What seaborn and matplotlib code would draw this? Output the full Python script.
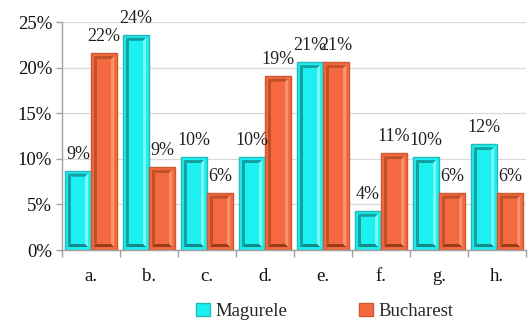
import matplotlib
matplotlib.use("Agg")
import matplotlib.pyplot as plt
from matplotlib.patches import Polygon, Patch
from matplotlib.ticker import MultipleLocator, FixedLocator, NullFormatter
import seaborn as sns
import pandas as pd

categories = ["a.", "b.", "c.", "d.", "e.", "f.", "g.", "h."]
magurele = [8.7, 23.6, 10.2, 10.2, 20.6, 4.3, 10.2, 11.6]
bucharest = [21.6, 9.1, 6.3, 19.1, 20.6, 10.6, 6.3, 6.3]
series_names = ["Magurele", "Bucharest"]

# base, outline, dark bevel, light bevel, bottom bevel
shades = {
    "Magurele": ("#1CF0F0", "#27B9B9", "#12A0A0", "#7CF7F7", "#0E8A8A"),
    "Bucharest": ("#F4693F", "#D0582F", "#C0502A", "#FA9470", "#9A3C1C"),
}

df = pd.DataFrame({
    "category": categories * 2,
    "value": magurele + bucharest,
    "city": [series_names[0]] * len(categories) + [series_names[1]] * len(categories),
})

sns.set_theme(style="white")
plt.rcParams["font.family"] = ["Liberation Serif", "DejaVu Serif"]
plt.rcParams["font.size"] = 13.5

fig = plt.figure(figsize=(5.32, 3.26), dpi=100)
ax = fig.add_axes([0.1165, 0.233, 0.8725, 0.6995])

sns.barplot(data=df, x="category", y="value", hue="city", order=categories,
            hue_order=series_names, palette=[shades[n][0] for n in series_names],
            width=0.9, saturation=1, dodge=True, legend=False, ax=ax)

ax.set_xlim(-0.5, len(categories) - 0.5)
ax.set_ylim(0, 25)
ax.set_xlabel("")
ax.set_ylabel("")

# gridlines and axes styling
ax.yaxis.set_major_locator(MultipleLocator(5))
ax.yaxis.set_major_formatter(lambda v, p: f"{v:.0f}%")
ax.grid(axis="y", color="#D9D9D9", linewidth=0.9)
ax.set_axisbelow(True)
for side in ("top", "right"):
    ax.spines[side].set_visible(False)
for side in ("left", "bottom"):
    ax.spines[side].set_color("#A0A0A0")
    ax.spines[side].set_linewidth(1.0)
ax.tick_params(axis="y", which="major", direction="out", length=4, width=1,
               color="#A0A0A0", labelsize=13.5, labelcolor="#111111", pad=3, left=True)
ax.tick_params(axis="x", which="major", length=0, labelsize=13.5, labelcolor="#111111", pad=13)
ax.xaxis.set_minor_locator(FixedLocator([i - 0.5 for i in range(len(categories) + 1)]))
ax.xaxis.set_minor_formatter(NullFormatter())
ax.tick_params(axis="x", which="minor", direction="out", length=5, width=1,
               color="#A0A0A0", bottom=True)

# bevelled faces for every bar
px_x = ax.bbox.width / (len(categories))
px_y = ax.bbox.height / 25.0
frame_px, bevel_px = 3.0, 3.0
for container, name in zip(ax.containers, series_names):
    base, edge, dark, light, bottom = shades[name]
    for bar in container:
        bar.set_edgecolor(edge)
        bar.set_linewidth(1.0)
        x0, y0 = bar.get_x(), bar.get_y()
        x1, y1 = x0 + bar.get_width(), y0 + bar.get_height()
        fx, fy = frame_px / px_x, frame_px / px_y
        bx, by = bevel_px / px_x, bevel_px / px_y
        ox0, oy0, ox1, oy1 = x0 + fx, y0 + fy, x1 - fx, y1 - fy
        ix0, iy0, ix1, iy1 = ox0 + bx, oy0 + by, ox1 - bx, oy1 - by
        pieces = [
            ([(ox0, oy0), (ox0, oy1), (ix0, iy1), (ix0, iy0)], dark),
            ([(ox0, oy1), (ox1, oy1), (ix1, iy1), (ix0, iy1)], dark),
            ([(ox1, oy1), (ox1, oy0), (ix1, iy0), (ix1, iy1)], light),
            ([(ox0, oy0), (ox1, oy0), (ix1, iy0), (ix0, iy0)], bottom),
        ]
        for pts, col in pieces:
            ax.add_patch(Polygon(pts, closed=True, facecolor=col, edgecolor="none", zorder=bar.get_zorder() + 0.1))
        ax.add_patch(Polygon([(ix0, iy0), (ix0, iy1), (ix1, iy1), (ix1, iy0)], closed=True,
                             facecolor=base, edgecolor="none", zorder=bar.get_zorder() + 0.2))
        ax.annotate(f"{bar.get_height():.0f}%", (x0 + bar.get_width() / 2, y1),
                    xytext=(0, 8.6), textcoords="offset points", ha="center", va="baseline",
                    fontsize=13, color="#222222", annotation_clip=False)

handles = [Patch(facecolor=shades[n][0], edgecolor=shades[n][1], label=n) for n in series_names]
fig.legend(handles=handles, loc="center", bbox_to_anchor=(0.61, 0.045), ncol=2, frameon=False,
           fontsize=13.5, handlelength=0.75, handleheight=0.75, handletextpad=0.3,
           columnspacing=3.8, borderaxespad=0)

fig.savefig("out.png", dpi=100)
